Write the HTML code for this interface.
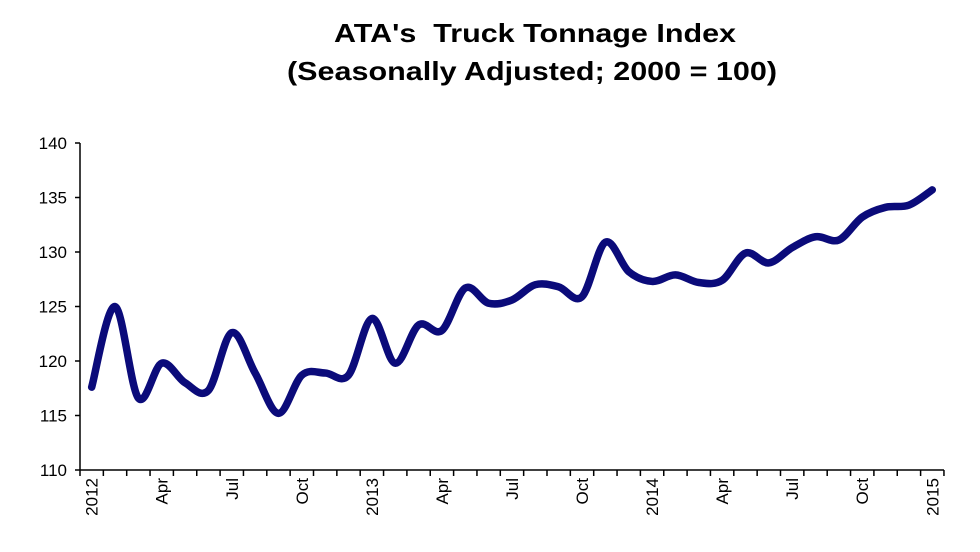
<!DOCTYPE html>
<html><head><meta charset="utf-8"><style>
body{margin:0;background:#fff;width:980px;height:552px;overflow:hidden}
svg{display:block;font-family:"Liberation Sans",Arial,sans-serif}
</style></head><body>
<svg id="chart" width="980" height="552">
<text x="535" y="42" text-anchor="middle" font-size="26" font-weight="bold" textLength="402" lengthAdjust="spacingAndGlyphs" xml:space="preserve">ATA's  Truck Tonnage Index</text>
<text x="532" y="80" text-anchor="middle" font-size="26" font-weight="bold" textLength="490" lengthAdjust="spacingAndGlyphs">(Seasonally Adjusted; 2000 = 100)</text>
<g id="axes"></g>
<path id="series" fill="none" stroke="#0b0b7a" stroke-width="7.5" stroke-linejoin="round" stroke-linecap="round"></path>
</svg>
<script>
const values = [117.6,125.0,116.6,119.8,118.0,117.3,122.6,118.9,115.2,118.7,118.9,118.7,123.9,119.8,123.3,122.8,126.7,125.3,125.6,127.0,126.8,125.9,130.9,128.2,127.3,127.9,127.2,127.4,129.9,129.0,130.4,131.4,131.1,133.2,134.1,134.3,135.7];
const yTicks = [110,115,120,125,130,135,140];
const xLabels = ["2012","","","Apr","","","Jul","","","Oct","","","2013","","","Apr","","","Jul","","","Oct","","","2014","","","Apr","","","Jul","","","Oct","","","2015"];

const NS="http://www.w3.org/2000/svg";
const X0=80, STEP=23.35, YB=470, YT=143;
const xs=i=>X0+(i+0.5)*STEP;
const ys=v=>YB-(v-110)/(140-110)*(YB-YT);
const axes=document.getElementById('axes');
function mk(tag,attrs){const e=document.createElementNS(NS,tag);for(const k in attrs)e.setAttribute(k,attrs[k]);axes.appendChild(e);return e;}
const n=values.length;
const xEnd=X0+n*STEP;
let e=mk('line',{x1:X0,y1:YT,x2:X0,y2:YB,stroke:'#000','stroke-width':1.5});


e=mk('line',{x1:X0,y1:YB,x2:xEnd,y2:YB,stroke:'#000','stroke-width':1.5});


yTicks.forEach(t=>{
  const y=ys(t);
  let l=mk('line',{x1:X0-5,y1:y,x2:X0,y2:y,stroke:'#000','stroke-width':1.5});
  
  
  let tx=mk('text',{x:X0-13,y:y+6,'text-anchor':'end','font-size':17});
  tx.textContent=t;
  
  
});
for(let i=0;i<=n;i++){
  const x=X0+i*STEP;
  let l=mk('line',{x1:x,y1:YB,x2:x,y2:YB+6,stroke:'#000','stroke-width':1.5});
  
  
}
xLabels.forEach((s,i)=>{
  if(!s)return;
  const x=xs(i)+6;
  let tx=mk('text',{x:0,y:0,'text-anchor':'end','font-size':17,transform:`translate(${x},478) rotate(-90)`});
  tx.textContent=s;
  
  
});
const pts=values.map((v,i)=>[xs(i),ys(v)]);
let d=`M${pts[0][0]},${pts[0][1]}`;
for(let i=0;i<pts.length-1;i++){
  const p0=pts[Math.max(i-1,0)],p1=pts[i],p2=pts[i+1],p3=pts[Math.min(i+2,pts.length-1)];
  const c1=[p1[0]+(p2[0]-p0[0])/6,p1[1]+(p2[1]-p0[1])/6];
  const c2=[p2[0]-(p3[0]-p1[0])/6,p2[1]-(p3[1]-p1[1])/6];
  d+=` C${c1[0]},${c1[1]} ${c2[0]},${c2[1]} ${p2[0]},${p2[1]}`;
}
document.getElementById('series').setAttribute('d',d);
</script>
</body></html>
